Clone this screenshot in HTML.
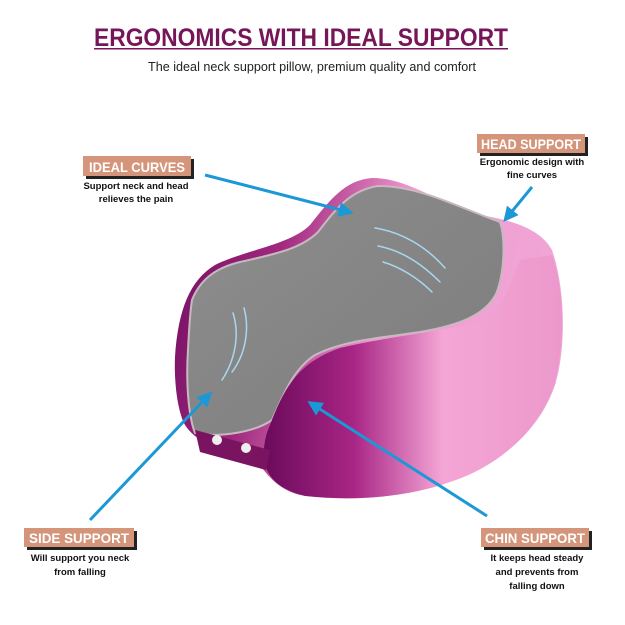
<!DOCTYPE html>
<html><head><meta charset="utf-8"><style>html,body{margin:0;padding:0;background:#fff}svg{display:block}</style></head>
<body>
<svg width="625" height="625" viewBox="0 0 625 625" xmlns="http://www.w3.org/2000/svg" font-family="Liberation Sans, sans-serif">
<defs>
<linearGradient id="body" x1="0" y1="0" x2="1" y2="0.2">
<stop offset="0" stop-color="#6e0c5e"/><stop offset="0.3" stop-color="#a0287e"/><stop offset="0.6" stop-color="#f29ad0"/><stop offset="1" stop-color="#f0a6d6"/>
</linearGradient>
<linearGradient id="chin" x1="0" y1="0" x2="1" y2="0">
<stop offset="0" stop-color="#6a0a5a"/><stop offset="0.3" stop-color="#a82585"/><stop offset="0.6" stop-color="#f4a6d6"/><stop offset="1" stop-color="#ec98cc"/>
</linearGradient>
<linearGradient id="gray" x1="0" y1="0" x2="1" y2="1">
<stop offset="0" stop-color="#8e8e8e"/><stop offset="1" stop-color="#7c7c7c"/>
</linearGradient>
<marker id="ah" markerWidth="5" markerHeight="5" refX="2" refY="2.5" orient="auto" markerUnits="strokeWidth">
<path d="M0,0 L5,2.5 L0,5 Z" fill="#1c98d6"/></marker>
</defs>

<text x="94" y="46" font-size="25" font-weight="bold" fill="#761658" textLength="414" lengthAdjust="spacingAndGlyphs">ERGONOMICS WITH IDEAL SUPPORT</text>
<rect x="94" y="48" width="414" height="1.5" fill="#761658"/>
<text x="148" y="71" font-size="13" fill="#222" textLength="328" lengthAdjust="spacingAndGlyphs">The ideal neck support pillow, premium quality and comfort</text>

<path d="M175,357 C178,310 190,280 215,265 C245,250 290,245 310,225 C330,200 345,180 372,178 C410,178 440,205 480,215 C510,220 540,228 552,250 C566,290 566,350 555,385 C540,430 500,465 450,482 C410,496 360,502 300,495 C280,490 270,478 262,468 L230,450 C210,446 195,440 185,425 C177,410 174,380 175,357 Z" fill="url(#body)"/>
<path d="M192,300 C200,280 215,268 240,262 C270,255 300,250 318,232 C335,210 350,190 378,186 C420,186 460,208 500,222 C506,240 504,275 496,294 C485,315 460,325 420,332 C380,338 345,340 315,355 C295,368 285,390 272,420 C255,432 220,438 195,433 C188,415 186,380 188,350 C189,330 190,312 192,300 Z" fill="url(#gray)" stroke="#c8b8c0" stroke-width="2"/>
<path d="M270,425 C285,385 300,362 340,348 C390,336 440,332 480,322 C505,312 510,280 520,260 L552,255 C566,295 564,350 554,386 C538,430 500,466 450,482 C410,496 360,502 305,496 C280,490 268,478 264,462 C263,448 265,436 270,425 Z" fill="url(#chin)"/>
<path d="M195,430 L270,450 L266,470 L200,452 Z" fill="#7a1460"/>
<circle cx="217" cy="440" r="5" fill="#eee"/><circle cx="246" cy="448" r="5" fill="#eee"/>
<g fill="none" stroke="#a8d8f0" stroke-width="1.5" stroke-linecap="round">
<path d="M375,228 C400,232 425,245 445,268"/>
<path d="M378,246 C400,250 420,262 440,282"/>
<path d="M383,262 C400,267 418,278 432,292"/>
<path d="M233,313 C240,335 235,360 222,380"/>
<path d="M244,308 C250,330 245,355 232,372"/>
</g>

<g stroke="#1c98d6" stroke-width="3" fill="none" marker-end="url(#ah)">
<line x1="205" y1="175" x2="345" y2="211"/>
<line x1="532" y1="187" x2="509" y2="215"/>
<line x1="90" y1="520" x2="206" y2="398"/>
<line x1="487" y1="516" x2="315" y2="406"/>
</g>

<g font-weight="bold">
<rect x="86" y="159" width="108" height="20" fill="#222"/>
<rect x="83" y="156" width="108" height="20" fill="#d4957a"/>
<text x="137" y="172" font-size="14" fill="#fff" text-anchor="middle" textLength="96" lengthAdjust="spacingAndGlyphs">IDEAL CURVES</text>
<text x="136" y="189" font-size="9.5" fill="#111" text-anchor="middle">Support neck and head</text>
<text x="136" y="202" font-size="9.5" fill="#111" text-anchor="middle">relieves the pain</text>

<rect x="480" y="137" width="108" height="19" fill="#222"/>
<rect x="477" y="134" width="108" height="19" fill="#d4957a"/>
<text x="531" y="149" font-size="14" fill="#fff" text-anchor="middle" textLength="100" lengthAdjust="spacingAndGlyphs">HEAD SUPPORT</text>
<text x="532" y="165" font-size="9.5" fill="#111" text-anchor="middle">Ergonomic design with</text>
<text x="532" y="178" font-size="9.5" fill="#111" text-anchor="middle">fine curves</text>

<rect x="27" y="531" width="110" height="19" fill="#222"/>
<rect x="24" y="528" width="110" height="19" fill="#d4957a"/>
<text x="79" y="543" font-size="14" fill="#fff" text-anchor="middle" textLength="100" lengthAdjust="spacingAndGlyphs">SIDE SUPPORT</text>
<text x="80" y="561" font-size="9.5" fill="#111" text-anchor="middle">Will support you neck</text>
<text x="80" y="575" font-size="9.5" fill="#111" text-anchor="middle">from falling</text>

<rect x="484" y="531" width="108" height="19" fill="#222"/>
<rect x="481" y="528" width="108" height="19" fill="#d4957a"/>
<text x="535" y="543" font-size="14" fill="#fff" text-anchor="middle" textLength="100" lengthAdjust="spacingAndGlyphs">CHIN SUPPORT</text>
<text x="537" y="561" font-size="9.5" fill="#111" text-anchor="middle">It keeps head steady</text>
<text x="537" y="575" font-size="9.5" fill="#111" text-anchor="middle">and prevents from</text>
<text x="537" y="589" font-size="9.5" fill="#111" text-anchor="middle">falling down</text>
</g>
</svg>
</body></html>
